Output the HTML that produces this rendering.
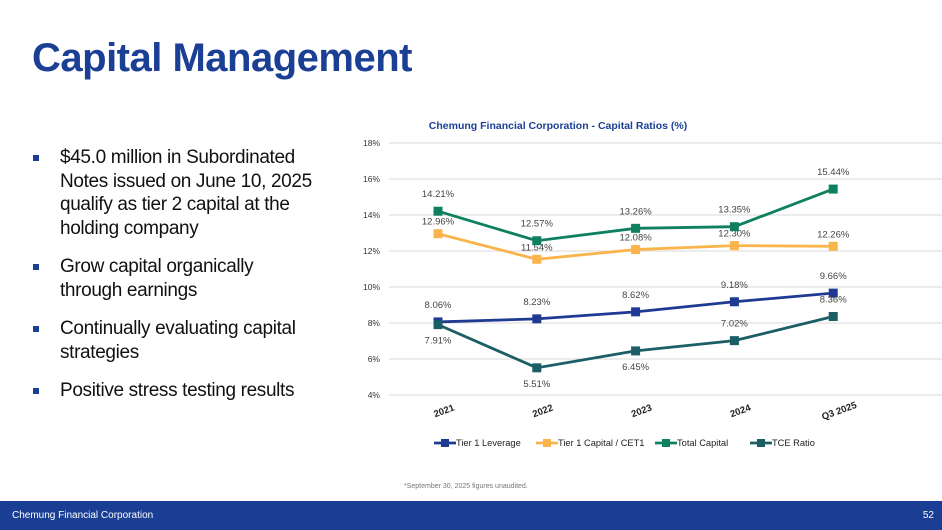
<!DOCTYPE html>
<html><head><meta charset="utf-8"><style>
body{margin:0;width:942px;height:530px;overflow:hidden;background:#fff;font-family:"Liberation Sans",sans-serif;position:relative}
h1{position:absolute;left:32px;top:36px;margin:0;font-size:40px;font-weight:bold;color:#1b3f95;letter-spacing:-0.5px}
ul{position:absolute;left:33px;top:146px;margin:0;padding:0;list-style:none;width:300px}
li{position:relative;padding-left:27px;font-size:19px;line-height:23.5px;color:#111;margin-bottom:15px;letter-spacing:-0.35px}
li:before{content:"";position:absolute;left:0;top:9px;width:6px;height:6px;background:#1b3f95}
.foot{position:absolute;left:0;top:501px;width:942px;height:29px;background:#1a3e94;color:#fff;font-size:10px}
</style></head><body>
<h1>Capital Management</h1>
<ul>
<li>$45.0 million in Subordinated<br>Notes issued on June 10, 2025<br>qualify as tier 2 capital at the<br>holding company</li>
<li>Grow capital organically<br>through earnings</li>
<li>Continually evaluating capital<br>strategies</li>
<li>Positive stress testing results</li>
</ul>
<svg id="chart" style="position:absolute;left:0;top:0" width="942" height="500"></svg>
<div style="position:absolute;left:404px;top:483px;font-size:7px;color:#777">*September 30, 2025 figures unaudited.</div>
<div class="foot">
<span style="position:absolute;left:12px;top:9px">Chemung Financial Corporation</span>
<span style="position:absolute;right:8px;top:9px">52</span>
</div>
<script>
const categories=["2021","2022","2023","2024","Q3 2025"];
const tier1Leverage=[8.06,8.23,8.62,9.18,9.66];
const tier1Capital=[12.96,11.54,12.08,12.30,12.26];
const totalCapital=[14.21,12.57,13.26,13.35,15.44];
const tceRatio=[7.91,5.51,6.45,7.02,8.36];
const yTicks=[4,6,8,10,12,14,16,18];
const seriesNames=["Tier 1 Leverage","Tier 1 Capital / CET1","Total Capital","TCE Ratio"];
const NS="http://www.w3.org/2000/svg",svg=document.getElementById('chart');
const y=v=>395-(v-4)*18, x=i=>438+i*98.8;
function el(t,a,txt){const e=document.createElementNS(NS,t);for(const k in a)e.setAttribute(k,a[k]);if(txt!=null)e.textContent=txt;svg.appendChild(e);return e;}
const title=el('text',{x:558,y:129,'text-anchor':'middle','font-size':10.5,'font-weight':'bold',fill:'#1b3f95'},'Chemung Financial Corporation - Capital Ratios (%)');


yTicks.forEach(t=>{
const g=el('line',{x1:389,x2:942,y1:y(t),y2:y(t),stroke:'#d9d9d9','stroke-width':1});


const l=el('text',{x:380,y:y(t)+3,'text-anchor':'end','font-size':8.5,fill:'#333'},t+'%');


});
categories.forEach((c,i)=>{
const t=el('text',{x:x(i)+6,y:416,'text-anchor':'middle','font-size':9.5,'font-weight':'bold',fill:'#222',transform:`rotate(-20 ${x(i)} 412)`},c);


});
const series=[[tier1Leverage,'#1f3a93'],[tier1Capital,'#f9b54c'],[totalCapital,'#0e8060'],[tceRatio,'#1b5e66']];
const offs=[[-14,-14,-14,-14,-14],[-9,-9,-9,-9,-9],[-14,-14,-14,-14,-14],[19,19,19,-14,-14]];
series.forEach(([d,c],s)=>{
const p=el('polyline',{points:d.map((v,i)=>x(i)+','+y(v)).join(' '),fill:'none',stroke:c,'stroke-width':2.8});


d.forEach((v,i)=>{
const m=el('rect',{x:x(i)-4.5,y:y(v)-4.5,width:9,height:9,fill:c});


const t=el('text',{x:x(i),y:y(v)+offs[s][i],'text-anchor':'middle','font-size':9.5,fill:'#444'},v.toFixed(2)+'%');


});
});
const lx=[436,538,657,752];
seriesNames.forEach((n,s)=>{
const c=series[s][1];
const l=el('line',{x1:lx[s]-2,x2:lx[s]+20,y1:443,y2:443,stroke:c,'stroke-width':2.8});


const r=el('rect',{x:lx[s]+5,y:439,width:8,height:8,fill:c});


const t=el('text',{x:lx[s]+20,y:446,'font-size':9.3,fill:'#222'},n);


});
</script>
</body></html>
